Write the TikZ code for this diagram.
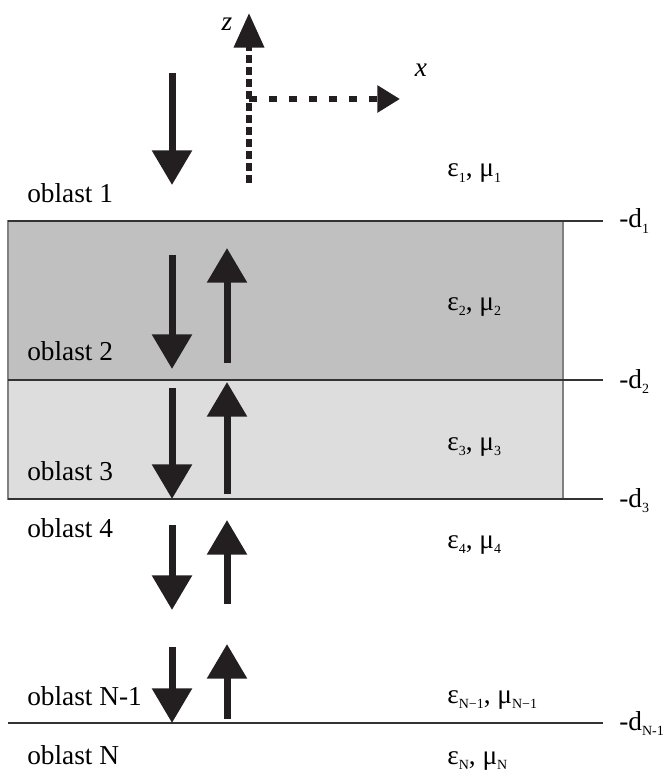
\documentclass[tikz,border=0pt]{standalone}
\usepackage{fontspec}
\setmainfont{Liberation Serif}
\usetikzlibrary{arrows.meta}
\definecolor{arrowcol}{HTML}{231F20}
\definecolor{layerdark}{HTML}{C0C0C0}
\definecolor{layerlight}{HTML}{DDDDDD}
\newcommand{\lowsub}[1]{\raisebox{-0.4ex}{\fontsize{10.5}{12}\selectfont #1}}
\newcommand{\matl}[1]{ε\lowsub{#1}, μ\lowsub{#1}}
\tikzset{
	lbl/.style={anchor=base west, inner sep=0pt, font=\fontsize{20.5}{24}\selectfont},
	wave/.style={line width=5.25pt, color=arrowcol, -{Triangle[width=29pt,length=26pt]}},
	zaxis/.style={line width=4.5pt, color=arrowcol, -{Triangle[width=22pt,length=26pt]}},
	xaxis/.style={line width=4.5pt, color=arrowcol, -{Triangle[width=19.5pt,length=17pt]}},
	iface/.style={line width=1.1pt, color=black!80},
	layer/.style={draw=black!50, line width=1pt},
}
\begin{document}
\begin{tikzpicture}[x=0.75pt, y=-0.75pt]
	\useasboundingbox (0,0) rectangle (665,773);
	% layers
	\draw[layer, fill=layerdark] (8,221) rectangle (563,380);
	\draw[layer, fill=layerlight] (8,380) rectangle (563,499);
	% interfaces
	\foreach \y in {221,380,499,723}
		\draw[iface] (8,\y) -- (603,\y);
	% axes
	\coordinate (O) at (249,99);
	\coordinate (zbot) at (249,183);
	\coordinate (ztip) at (249,13);
	\coordinate (xtip) at (400,99);
	\draw[zaxis, dash pattern=on 6pt off 3pt] (zbot) -- (ztip);
	\draw[xaxis, dash pattern=on 6pt off 9pt] (O) -- (xtip);
	\node[font=\fontsize{20.5}{24}\selectfont\itshape] (zlab) at (227,24) {z};
	\node[font=\fontsize{20.5}{24}\selectfont\itshape] (xlab) at (421,70) {x};
	% waves
	\draw[wave] (172,73) -- (172,185);
	\foreach \top/\bot in {255/369, 388/499, 525/610, 647/723}
		\draw[wave] (172,\top) -- (172,\bot);
	\foreach \bot/\top in {363/248, 494/382, 604/520, 719/644}
		\draw[wave] (227,\bot) -- (227,\top);
	% labels
	\foreach \n/\t/\y in {1/1/203, 2/2/360, 3/3/480, 4/4/537, 5/N-1/705, 6/N/764}
		\node[lbl] (obl\n) at (27,\y) {oblast \t};
	\foreach \n/\t/\y in {1/1/177, 2/2/310, 3/3/450, 4/4/548, 5/N−1/703, 6/N/764}
		\node[lbl] (mat\n) at (447,\y) {\matl{\t}};
	\foreach \n/\t/\y in {1/1/228, 2/2/388, 3/3/507, 4/N-1/730}
		\node[lbl] (dep\n) at (619,\y) {-d\lowsub{\t}};
\end{tikzpicture}
\end{document}
